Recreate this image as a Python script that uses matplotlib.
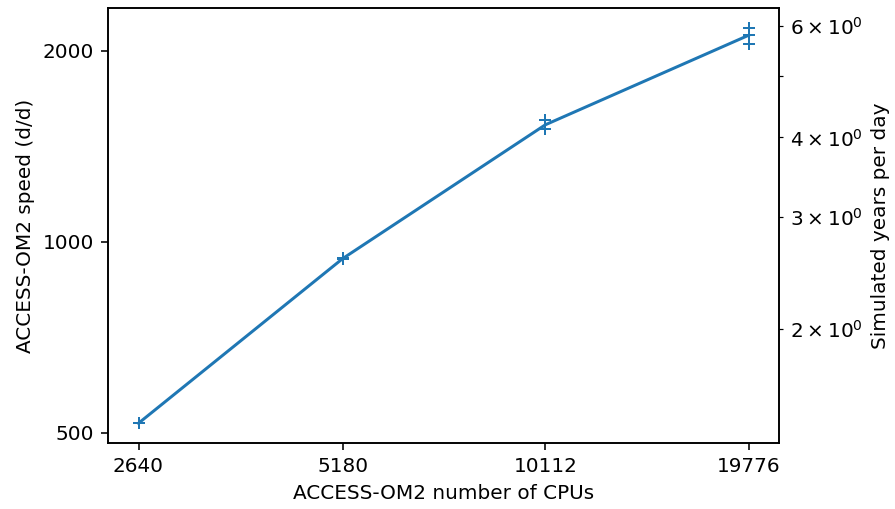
import numpy as np
import matplotlib
matplotlib.use("Agg")
import matplotlib.pyplot as plt
from matplotlib.ticker import NullLocator

# ACCESS-OM2 scaling runs
cpus = [2640, 5180, 10112, 19776]
speed_runs = [
    [518],
    [938, 944],
    [1553, 1504],
    [2173, 2119, 2051],
]
days_per_year = 365

mean_speed = [np.mean(r) for r in speed_runs]
run_cpus = [c for c, r in zip(cpus, speed_runs) for _ in r]
run_speed = [v for r in speed_runs for v in r]

fig = plt.figure(figsize=(895 / 144, 509 / 144), dpi=144)
ax = fig.add_axes([108 / 895, 66 / 509, 671 / 895, 435 / 509])

ax.plot(cpus, mean_speed, color='C0', lw=1.5)
ax.plot(run_cpus, run_speed, '+', color='C0', ms=6)
ax.set_xscale('log')
ax.set_yscale('log')

ax.set_xticks(cpus, labels=[str(c) for c in cpus])
ax.xaxis.set_minor_locator(NullLocator())
yt = [500, 1000, 2000]
ax.set_yticks(yt, labels=[str(v) for v in yt])
ax.yaxis.set_minor_locator(NullLocator())

ax.set_xlabel('ACCESS-OM2 number of CPUs')
ax.set_ylabel('ACCESS-OM2 speed (d/d)')

ax2 = ax.twinx()
ax2.set_yscale('log')
ax2.set_ylim(np.array(ax.get_ylim()) / days_per_year)
ax2.set_ylabel('Simulated years per day')

fig.savefig('out.png', dpi=144)
